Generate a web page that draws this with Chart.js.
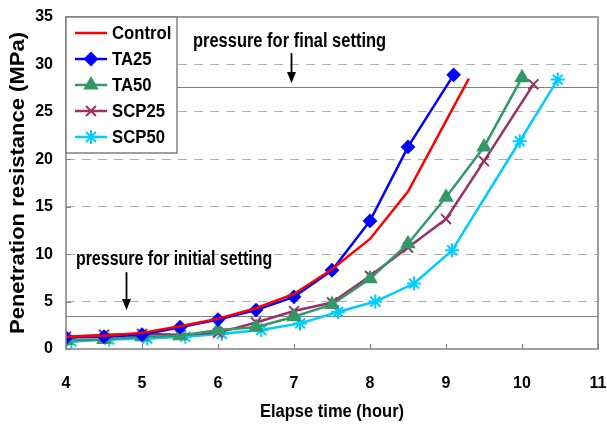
<!DOCTYPE html>
<html>
<head>
<meta charset="utf-8">
<script src="https://cdn.jsdelivr.net/npm/chart.js@4/dist/chart.umd.min.js"></script>
<style>
  html, body { margin: 0; padding: 0; background: #fff; }
  #wrap { width: 607px; height: 430px; }
</style>
</head>
<body>
<div id="wrap"><canvas id="setChart" width="607" height="430"></canvas></div>
<script>
    // Penetration resistance vs elapse time
    const seriesNames = ['Control', 'TA25', 'TA50', 'SCP25', 'SCP50'];

    const controlHours = [4, 4.5, 5, 5.5, 6, 6.5, 7, 7.5, 8, 8.5, 9.3];
    const controlMPa   = [1.3, 1.4, 1.7, 2.4, 3.2, 4.3, 5.8, 8.4, 11.6, 16.6, 28.5];

    const ta25Hours = [4, 4.5, 5, 5.5, 6, 6.5, 7, 7.5, 8, 8.5, 9.1];
    const ta25MPa   = [1.2, 1.3, 1.5, 2.3, 3.1, 4.1, 5.5, 8.3, 13.5, 21.3, 28.9];

    const ta50Hours = [4, 4.5, 5, 5.5, 6, 6.5, 7, 7.5, 8, 8.5, 9, 9.5, 10];
    const ta50MPa   = [0.9, 1.0, 1.3, 1.4, 2.0, 2.3, 3.4, 4.7, 7.4, 11.1, 16.0, 21.3, 28.6];

    const scp25Hours = [4, 4.5, 5, 5.5, 6, 6.5, 7, 7.5, 8, 8.5, 9, 9.5, 10.15];
    const scp25MPa   = [1.3, 1.5, 1.6, 1.5, 1.7, 2.8, 4.0, 4.9, 7.7, 10.7, 13.7, 19.8, 27.9];

    const scp50Hours = [4.07, 4.57, 5.07, 5.57, 6.05, 6.57, 7.08, 7.58, 8.07, 8.58, 9.08, 9.97, 10.47];
    const scp50MPa   = [0.8, 1.0, 1.1, 1.3, 1.6, 2.0, 2.7, 3.9, 5.0, 6.9, 10.4, 21.9, 28.4];

    const xTicks = [4, 5, 6, 7, 8, 9, 10, 11];
    const yTicks = [0, 5, 10, 15, 20, 25, 30, 35];

    const initialSettingMPa = 3.5;
    const finalSettingMPa = 27.6;

    const xTitle = 'Elapse time (hour)';
    const yTitle = 'Penetration resistance (MPa)';
    const finalNote = 'pressure for final setting';
    const initialNote = 'pressure for initial setting';

    const FONT = '"Liberation Sans", Arial, Helvetica, sans-serif';
    const FRAME = '#808080';

    function toPoints(xs, ys) {
        return xs.map((x, i) => ({ x: x, y: ys[i] }));
    }

    const styles = [
        { color: '#ff0000', pointStyle: false, radius: 0, width: 2.5 },
        { color: '#0000ff', pointStyle: 'rectRot', radius: 6, width: 2.5 },
        { color: '#339966', pointStyle: 'triangle', radius: 7, width: 2.5 },
        { color: '#993366', pointStyle: 'crossRot', radius: 7, width: 2.5 },
        { color: '#00ccff', pointStyle: 'star', radius: 7, width: 2.5 }
    ];

    const seriesData = [
        toPoints(controlHours, controlMPa),
        toPoints(ta25Hours, ta25MPa),
        toPoints(ta50Hours, ta50MPa),
        toPoints(scp25Hours, scp25MPa),
        toPoints(scp50Hours, scp50MPa)
    ];

    // bold text, narrowed horizontally like the original figure
    function narrowText(ctx, text, x, y, size, sx, align, baseline) {
        ctx.save();
        ctx.translate(x, y);
        ctx.scale(sx, 1);
        ctx.font = 'bold ' + size + 'px ' + FONT;
        ctx.textAlign = align;
        ctx.textBaseline = baseline;
        ctx.fillStyle = '#000';
        ctx.fillText(text, 0, 0);
        ctx.restore();
    }

    // Frame, setting thresholds, arrows, notes, titles and the boxed legend
    const settingMarks = {
        id: 'settingMarks',
        beforeDatasetsDraw(chart) {
            const { ctx, chartArea: a, scales: { y } } = chart;
            ctx.save();
            ctx.strokeStyle = FRAME;
            ctx.lineWidth = 1;
            [initialSettingMPa, finalSettingMPa].forEach(v => {
                const py = Math.round(y.getPixelForValue(v)) + 0.5;
                ctx.beginPath();
                ctx.moveTo(a.left, py);
                ctx.lineTo(a.right, py);
                ctx.stroke();
            });
            ctx.restore();
        },
        afterDatasetsDraw(chart) {
            const { ctx, chartArea: a, scales: { x, y } } = chart;
            ctx.save();

            // plot frame
            ctx.strokeStyle = FRAME;
            ctx.lineWidth = 1.5;
            ctx.strokeRect(a.left, a.top, a.right - a.left, a.bottom - a.top);

            // inward tick marks
            ctx.lineWidth = 1;
            xTicks.forEach(v => {
                const px = Math.round(x.getPixelForValue(v)) + 0.5;
                ctx.beginPath();
                ctx.moveTo(px, a.bottom);
                ctx.lineTo(px, a.bottom - 5);
                ctx.stroke();
            });
            yTicks.forEach(v => {
                const py = Math.round(y.getPixelForValue(v)) + 0.5;
                ctx.beginPath();
                ctx.moveTo(a.left, py);
                ctx.lineTo(a.left + 5, py);
                ctx.stroke();
            });

            // notes and arrows
            narrowText(ctx, finalNote, x.getPixelForValue(5.67), y.getPixelForValue(31.84), 19.5, 0.845, 'left', 'alphabetic');
            narrowText(ctx, initialNote, x.getPixelForValue(4.13), y.getPixelForValue(8.85), 19.5, 0.82, 'left', 'alphabetic');

            ctx.fillStyle = '#000';
            ctx.strokeStyle = '#000';
            function arrow(hx, fromV, toV) {
                const px = Math.round(x.getPixelForValue(hx)) + 0.5;
                const y0 = y.getPixelForValue(fromV);
                const y1 = y.getPixelForValue(toV);
                ctx.lineWidth = 1.8;
                ctx.beginPath();
                ctx.moveTo(px, y0);
                ctx.lineTo(px, y1 - 8);
                ctx.stroke();
                ctx.beginPath();
                ctx.moveTo(px - 4.5, y1 - 11);
                ctx.lineTo(px + 4.5, y1 - 11);
                ctx.lineTo(px, y1);
                ctx.closePath();
                ctx.fill();
            }
            arrow(6.96, 31.2, 28.05);
            arrow(4.785, 8.1, 4.1);

            // axis titles
            narrowText(ctx, xTitle, (a.left + a.right) / 2, 412, 19, 0.87, 'center', 'middle');
            ctx.save();
            ctx.translate(18, (a.top + a.bottom) / 2);
            ctx.rotate(-Math.PI / 2);
            narrowText(ctx, yTitle, 0, 0, 20, 1.1, 'center', 'middle');
            ctx.restore();

            // legend box
            const lx = a.left, ly = a.top, lw = 111, lh = 136;
            ctx.fillStyle = '#fff';
            ctx.fillRect(lx, ly, lw, lh);
            ctx.strokeStyle = FRAME;
            ctx.lineWidth = 1.5;
            ctx.strokeRect(lx, ly, lw, lh);
            chart.data.datasets.forEach((ds, i) => {
                const s = styles[i];
                const cy = ly + 16 + i * 26;
                ctx.strokeStyle = s.color;
                ctx.fillStyle = s.color;
                ctx.lineWidth = s.width;
                ctx.beginPath();
                ctx.moveTo(lx + 9, cy);
                ctx.lineTo(lx + 41, cy);
                ctx.stroke();
                if (s.pointStyle) {
                    ctx.lineWidth = 2;
                    Chart.helpers.drawPoint(ctx, {
                        pointStyle: s.pointStyle, rotation: 0,
                        radius: s.radius, borderWidth: 2
                    }, lx + 25, cy);
                }
                narrowText(ctx, ds.label, lx + 46, cy + 1, 19, 0.88, 'left', 'middle');
            });
            ctx.restore();
        }
    };

    const chart = new Chart(document.getElementById('setChart'), {
        type: 'line',
        data: {
            datasets: seriesData.map((pts, i) => ({
                label: seriesNames[i],
                data: pts,
                borderColor: styles[i].color,
                backgroundColor: styles[i].color,
                borderWidth: styles[i].width,
                pointStyle: styles[i].pointStyle,
                pointRadius: styles[i].radius,
                pointBorderWidth: 2,
                tension: 0,
                fill: false
            }))
        },
        options: {
            responsive: false,
            animation: false,
            layout: { padding: { top: 17, right: 9, left: 0, bottom: 0 } },
            plugins: {
                legend: { display: false },
                tooltip: { enabled: false }
            },
            scales: {
                x: {
                    type: 'linear',
                    min: 4,
                    max: 11,
                    afterBuildTicks: s => { s.ticks = xTicks.map(v => ({ value: v })); },
                    afterFit: s => { s.height = 81; s.paddingLeft = 0; s.paddingRight = 0; },
                    grid: { display: false, drawTicks: false },
                    border: { display: false },
                    ticks: { padding: 25, color: '#000', font: { family: FONT, size: 16, weight: 'bold' } },
                    title: { display: false }
                },
                y: {
                    min: 0,
                    max: 35,
                    afterBuildTicks: s => { s.ticks = yTicks.map(v => ({ value: v })); },
                    afterFit: s => { s.width = 66; s.paddingTop = 0; s.paddingBottom = 0; },
                    grid: {
                        drawTicks: false,
                        lineWidth: 1,
                        color: c => (c.tick && (c.tick.value === 0 || c.tick.value === 35)) ? 'rgba(0,0,0,0)' : '#b0b0b0'
                    },
                    border: { display: false, dash: [9, 7] },
                    ticks: { padding: 13, color: '#000', font: { family: FONT, size: 16, weight: 'bold' } },
                    title: { display: false }
                }
            }
        },
        plugins: [settingMarks]
    });
</script>
</body>
</html>
